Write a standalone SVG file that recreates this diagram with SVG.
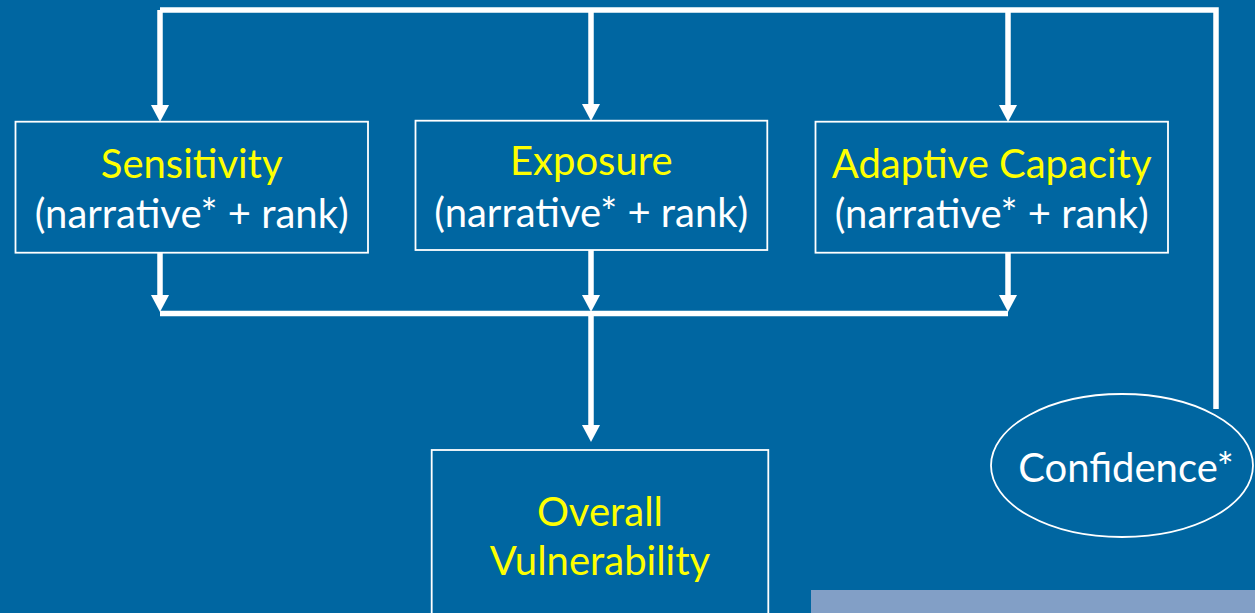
<svg xmlns="http://www.w3.org/2000/svg" width="1255" height="613" viewBox="0 0 1255 613">
  <style>
    .box { fill: none; stroke: #ffffff; stroke-width: 1.8; }
    .wire { fill: none; stroke: #ffffff; stroke-width: 5.5; stroke-linejoin: miter; stroke-linecap: butt; }
    .head { fill: #ffffff; }
    .t { font-family: Lato, "Open Sans", "Liberation Sans", sans-serif; font-size: 40px; text-anchor: middle; }
    .title { fill: #ffff00; }
    .sub { fill: #ffffff; }
  </style>
  <defs>
    <!-- downward arrowhead, tip at origin -->
    <path id="down" class="head" d="M-9,-17 L9,-17 L0,0 Z"/>
  </defs>

  <rect width="1255" height="613" fill="#0066a1"/>

  <g id="connectors">
    <!-- feedback rail across the top, fed from the confidence ellipse -->
    <path class="wire" d="M1216,409 V10 H160"/>
    <path class="wire" d="M160,10 V105"/>
    <path class="wire" d="M591,10 V104"/>
    <path class="wire" d="M1008,10 V105"/>
    <use href="#down" x="160" y="122"/>
    <use href="#down" x="591" y="121"/>
    <use href="#down" x="1008" y="122"/>
    <!-- collector bar below the three components -->
    <path class="wire" d="M160,253 V296"/>
    <path class="wire" d="M591,250 V296"/>
    <path class="wire" d="M1008,253 V296"/>
    <use href="#down" x="160" y="312"/>
    <use href="#down" x="591" y="312"/>
    <use href="#down" x="1008" y="312"/>
    <path class="wire" d="M160,313.5 H1008"/>
    <path class="wire" d="M591,313.5 V425"/>
    <use href="#down" x="591" y="442"/>
  </g>

  <g id="sensitivity">
    <rect class="box" x="15.5" y="121.7" width="352.5" height="131"/>
    <text class="t title" x="191.7" y="178">Sensitivity</text>
    <text class="t sub" x="191.7" y="228">(narrative* + rank)</text>
  </g>

  <g id="exposure">
    <rect class="box" x="415.5" y="120.7" width="351.8" height="129.3"/>
    <text class="t title" x="591.3" y="175">Exposure</text>
    <text class="t sub" x="591.3" y="227">(narrative* + rank)</text>
  </g>

  <g id="adaptive-capacity">
    <rect class="box" x="815.5" y="121.7" width="352.5" height="131"/>
    <text class="t title" x="991.7" y="178">Adaptive Capacity</text>
    <text class="t sub" x="991.7" y="228">(narrative* + rank)</text>
  </g>

  <g id="overall-vulnerability">
    <rect class="box" x="431.7" y="450" width="336.6" height="180"/>
    <text class="t title" x="600" y="526">Overall</text>
    <text class="t title" x="600" y="575">Vulnerability</text>
  </g>

  <g id="confidence">
    <ellipse class="box" cx="1122" cy="465.5" rx="131" ry="71.5" fill="#0066a1"/>
    <text class="t sub" x="1126" y="482">Confidence*</text>
  </g>

  <!-- note panel at lower right -->
  <rect id="note" x="811" y="590" width="444" height="23" fill="#829fc6"/>
</svg>
